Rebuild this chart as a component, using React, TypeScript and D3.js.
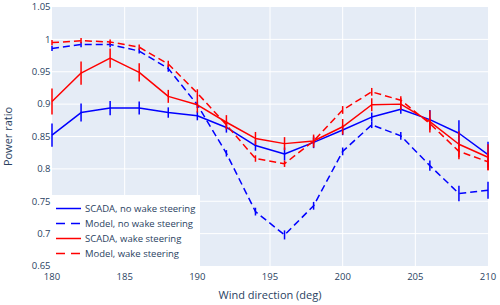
import { useEffect, useRef } from 'react';
import * as d3 from 'd3';

// Wind direction bins (deg)
const directions = [180, 182, 184, 186, 188, 190, 192, 194, 196, 198, 200, 202, 204, 206, 208, 210];

// Power ratio values
const scadaNoWake = [0.852, 0.887, 0.894, 0.894, 0.887, 0.882, 0.864, 0.836, 0.823, 0.841, 0.860, 0.880, 0.892, 0.876, 0.855, 0.822];
const scadaNoWakeErr = [0.018, 0.014, 0.011, 0.010, 0.008, 0.007, 0.008, 0.008, 0.010, 0.009, 0.008, 0.007, 0.007, 0.015, 0.020, 0.020];

const modelNoWake = [0.986, 0.992, 0.992, 0.982, 0.955, 0.899, 0.824, 0.734, 0.698, 0.743, 0.827, 0.868, 0.851, 0.805, 0.762, 0.767];
const modelNoWakeErr = [0.004, 0.004, 0.004, 0.004, 0.005, 0.005, 0.005, 0.006, 0.007, 0.006, 0.006, 0.005, 0.006, 0.008, 0.012, 0.013];

const scadaWake = [0.904, 0.948, 0.971, 0.949, 0.912, 0.899, 0.872, 0.847, 0.839, 0.843, 0.865, 0.899, 0.900, 0.873, 0.838, 0.818];
const scadaWakeErr = [0.020, 0.018, 0.015, 0.014, 0.010, 0.012, 0.011, 0.010, 0.010, 0.010, 0.012, 0.010, 0.009, 0.017, 0.020, 0.020];

const modelWake = [0.995, 0.998, 0.996, 0.988, 0.962, 0.917, 0.868, 0.816, 0.808, 0.843, 0.891, 0.919, 0.906, 0.870, 0.827, 0.811];
const modelWakeErr = [0.004, 0.004, 0.004, 0.004, 0.005, 0.006, 0.006, 0.005, 0.005, 0.005, 0.006, 0.006, 0.006, 0.009, 0.012, 0.013];

const xTicks = [180, 185, 190, 195, 200, 205, 210];
const yTicks = [0.65, 0.7, 0.75, 0.8, 0.85, 0.9, 0.95, 1, 1.05];

const seriesNames = ['SCADA, no wake steering', 'Model, no wake steering', 'SCADA, wake steering', 'Model, wake steering'];

const App = () => {
    const svgRef = useRef(null);

    useEffect(() => {
        if (!svgRef.current) return;
        d3.select(svgRef.current).selectAll('*').remove();

        const W = 500;
        const H = 305;
        const margin = { top: 7, right: 12, bottom: 39, left: 52 };
        const width = W - margin.left - margin.right;
        const height = H - margin.top - margin.bottom;
        const font = '"Open Sans", "Noto Sans", sans-serif';
        const textColor = '#2a3f5f';

        const series = [
            { name: seriesNames[0], values: scadaNoWake, err: scadaNoWakeErr, color: '#0000ff', dash: null },
            { name: seriesNames[1], values: modelNoWake, err: modelNoWakeErr, color: '#0000ff', dash: '7,4' },
            { name: seriesNames[2], values: scadaWake, err: scadaWakeErr, color: '#ff0000', dash: null },
            { name: seriesNames[3], values: modelWake, err: modelWakeErr, color: '#ff0000', dash: '7,4' }
        ];

        const svg = d3.select(svgRef.current)
            .attr('width', W)
            .attr('height', H);

        const g = svg.append('g')
            .attr('transform', `translate(${margin.left},${margin.top})`);

        const xScale = d3.scaleLinear().domain([180, 210]).range([0, width]);
        const yScale = d3.scaleLinear().domain([0.65, 1.05]).range([height, 0]);

        // Plot background
        g.append('rect')
            .attr('width', width)
            .attr('height', height)
            .attr('fill', '#e5ecf6');

        // Grid
        g.selectAll('.xgrid')
            .data(xTicks.slice(1, -1))
            .enter()
            .append('line')
            .attr('x1', d => xScale(d))
            .attr('x2', d => xScale(d))
            .attr('y1', 0)
            .attr('y2', height)
            .attr('stroke', '#fff')
            .attr('stroke-width', 1);

        g.selectAll('.ygrid')
            .data(yTicks.slice(1, -1))
            .enter()
            .append('line')
            .attr('x1', 0)
            .attr('x2', width)
            .attr('y1', d => yScale(d))
            .attr('y2', d => yScale(d))
            .attr('stroke', '#fff')
            .attr('stroke-width', 1);

        // Tick labels
        g.selectAll('.xtick')
            .data(xTicks)
            .enter()
            .append('text')
            .attr('x', d => xScale(d))
            .attr('y', height + 14)
            .attr('text-anchor', 'middle')
            .attr('font-family', font)
            .attr('font-size', '9.5px')
            .attr('fill', textColor)
            .text(d => d3.format('d')(d));

        g.selectAll('.ytick')
            .data(yTicks)
            .enter()
            .append('text')
            .attr('x', -1.5)
            .attr('y', d => yScale(d) + 3.3)
            .attr('text-anchor', 'end')
            .attr('font-family', font)
            .attr('font-size', '9.5px')
            .attr('fill', textColor)
            .text(d => String(+d.toFixed(2)));

        // Axis titles
        g.append('text')
            .attr('x', width / 2)
            .attr('y', height + 33)
            .attr('text-anchor', 'middle')
            .attr('font-family', font)
            .attr('font-size', '11px')
            .attr('fill', textColor)
            .text('Wind direction (deg)');

        g.append('text')
            .attr('transform', 'rotate(-90)')
            .attr('x', -height / 2)
            .attr('y', -40)
            .attr('text-anchor', 'middle')
            .attr('font-family', font)
            .attr('font-size', '11px')
            .attr('fill', textColor)
            .text('Power ratio');

        // Traces
        const clip = g.append('clipPath').attr('id', 'plot-clip');
        clip.append('rect').attr('x', -2).attr('y', 0).attr('width', width + 4).attr('height', height);

        const line = d3.line<number>()
            .x((d, i) => xScale(directions[i]))
            .y(d => yScale(d));

        series.forEach(s => {
            const sg = g.append('g').attr('clip-path', 'url(#plot-clip)');

            sg.selectAll('.err')
                .data(s.values)
                .enter()
                .append('line')
                .attr('x1', (d, i) => xScale(directions[i]))
                .attr('x2', (d, i) => xScale(directions[i]))
                .attr('y1', (d, i) => yScale(d - s.err[i]))
                .attr('y2', (d, i) => yScale(d + s.err[i]))
                .attr('stroke', s.color)
                .attr('stroke-width', 1.5);

            sg.append('path')
                .datum(s.values)
                .attr('d', line)
                .attr('fill', 'none')
                .attr('stroke', s.color)
                .attr('stroke-width', 1.5)
                .attr('stroke-linejoin', 'round')
                .attr('stroke-dasharray', s.dash);
        });

        // Legend
        const legend = g.append('g').attr('transform', `translate(0,${height - 71})`);
        legend.append('rect')
            .attr('width', 148)
            .attr('height', 71)
            .attr('fill', '#fff');

        series.forEach((s, i) => {
            const row = legend.append('g').attr('transform', `translate(0,${13.5 + i * 15})`);
            row.append('line')
                .attr('x1', 4)
                .attr('x2', 29)
                .attr('y1', 0)
                .attr('y2', 0)
                .attr('stroke', s.color)
                .attr('stroke-width', 1.5)
                .attr('stroke-dasharray', s.dash ? '9,6' : null);
            row.append('text')
                .attr('x', 33)
                .attr('y', 3.3)
                .attr('font-family', font)
                .attr('font-size', '9.5px')
                .attr('fill', textColor)
                .text(s.name);
        });
    }, []);

    return (
        <svg ref={svgRef} style={{ position: 'absolute', left: 0, top: 0 }}></svg>
    );
};

export default App;
